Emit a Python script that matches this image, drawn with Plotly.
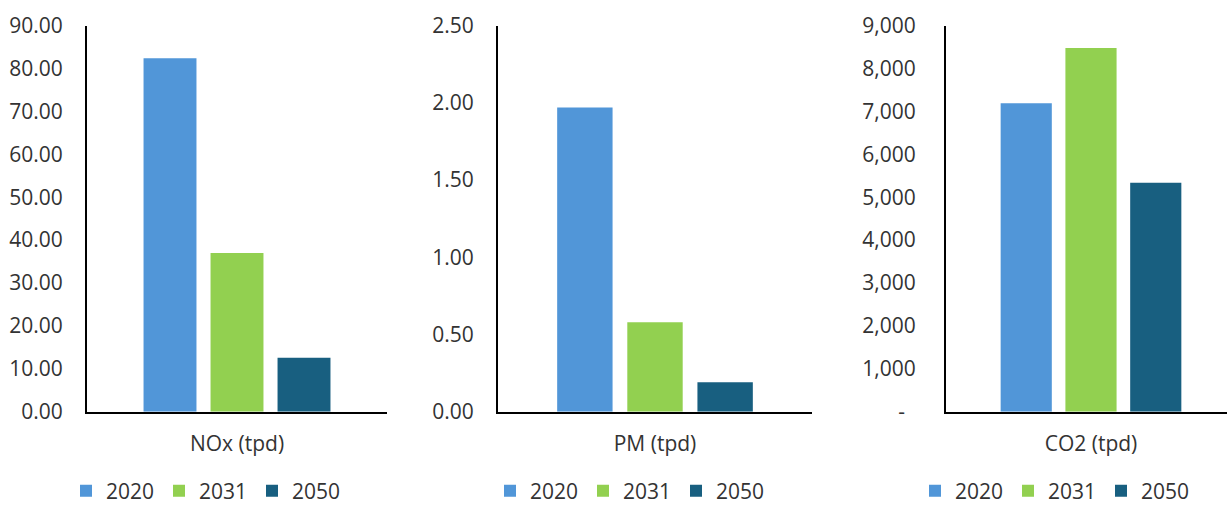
import plotly.graph_objects as go

# Emission categories (one per panel) and scenario years
categories = ["NOx (tpd)", "PM (tpd)", "CO2 (tpd)"]
years = ["2020", "2031", "2050"]

# Daily emissions by year for each pollutant
nox_values = [82.4, 37.0, 12.6]
pm_values = [1.97, 0.58, 0.19]
co2_values = [7190, 8480, 5340]

# Y-axis ticks for each panel
nox_ticks = [0, 10, 20, 30, 40, 50, 60, 70, 80, 90]
pm_ticks = [0, 0.5, 1.0, 1.5, 2.0, 2.5]
co2_ticks = [0, 1000, 2000, 3000, 4000, 5000, 6000, 7000, 8000, 9000]
co2_tick_text = ["-\u00a0\u00a0", "1,000", "2,000", "3,000", "4,000", "5,000",
                 "6,000", "7,000", "8,000", "9,000"]

colors = ["#5196D8", "#92D050", "#185F80"]
text_color = "#333333"
font_family = "Open Sans, Noto Sans, sans-serif"
font_size = 21

W, H = 1227, 506

fig = go.Figure()

panels = [
    (categories[0], nox_values, "x", "y", "legend"),
    (categories[1], pm_values, "x2", "y2", "legend2"),
    (categories[2], co2_values, "x3", "y3", "legend3"),
]

for cat, vals, xa, ya, leg in panels:
    for yr, v, c in zip(years, vals, colors):
        fig.add_trace(go.Bar(
            x=[cat], y=[v], name=yr, marker=dict(color=c, line=dict(width=0)),
            xaxis=xa, yaxis=ya, legend=leg, offsetgroup=yr,
        ))

ytop = 1 - 25.7 / H
ybot = 1 - 411.7 / H


def px(v):
    return v / W


axis_common = dict(
    showline=True, linecolor="#000000", linewidth=2, showgrid=False,
    zeroline=False, ticks="", automargin=False,
    tickfont=dict(size=font_size, color=text_color, family=font_family),
    fixedrange=True,
)

layout = dict(
    width=W, height=H,
    margin=dict(l=0, r=0, t=0, b=0, autoexpand=False),
    paper_bgcolor="white", plot_bgcolor="white",
    barmode="group", bargap=0.33, bargroupgap=0.21,
    font=dict(family=font_family, color=text_color, size=font_size),
    xaxis=dict(domain=[px(87), px(387)], anchor="y", range=[-0.5, 0.5],
               ticklabelstandoff=12, **axis_common),
    xaxis2=dict(domain=[px(498), px(812)], anchor="y2", range=[-0.5, 0.5],
                ticklabelstandoff=12, **axis_common),
    xaxis3=dict(domain=[px(946), 1.0], anchor="y3", range=[-0.5, 0.469],
                ticklabelstandoff=12, **axis_common),
    yaxis=dict(domain=[ybot, ytop], anchor="x", range=[0, 90], tickvals=nox_ticks,
               tickformat=".2f", ticklabelstandoff=18, **axis_common),
    yaxis2=dict(domain=[ybot, ytop], anchor="x2", range=[0, 2.5], tickvals=pm_ticks,
                tickformat=".2f", ticklabelstandoff=18, **axis_common),
    yaxis3=dict(domain=[ybot, ytop], anchor="x3", range=[0, 9000], tickvals=co2_ticks,
                ticktext=co2_tick_text, ticklabelstandoff=24, **axis_common),
)

legend_common = dict(
    orientation="h", yanchor="middle", y=1 - 491 / H, xanchor="left",
    font=dict(size=font_size, color=text_color, family=font_family),
    bgcolor="rgba(0,0,0,0)", borderwidth=0, itemclick=False, itemdoubleclick=False,
    entrywidth=48, entrywidthmode="pixels", tracegroupgap=0,
)
layout["legend"] = dict(x=px(66), **legend_common)
layout["legend2"] = dict(x=px(490), **legend_common)
layout["legend3"] = dict(x=px(915), **legend_common)
layout["showlegend"] = True

fig.update_layout(**layout)
fig.write_html("out.html")
